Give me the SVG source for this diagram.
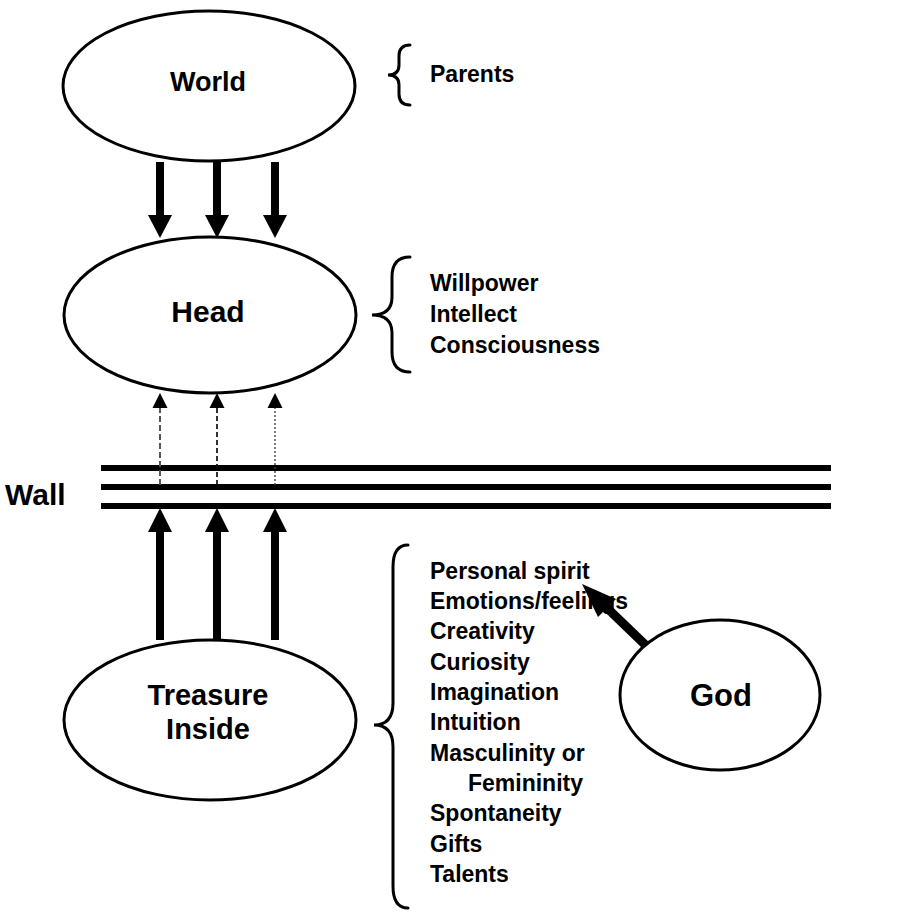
<svg xmlns="http://www.w3.org/2000/svg" width="912" height="912" viewBox="0 0 912 912">
<style>
.node ellipse{fill:#fff;stroke:#000;stroke-width:3}
.lbl{font-family:"Liberation Sans",Arial,sans-serif;font-weight:bold;fill:#000}
.big{font-size:27px;text-anchor:middle}
.item{font-size:23px}
.brace{fill:none;stroke:#000;stroke-width:3;stroke-linecap:round}
.shaft{stroke:#000;stroke-width:8;fill:none}
.wall{stroke:#000;stroke-width:6}
</style>
<rect width="912" height="912" fill="#fff"/>
<g id="wall">
<line class="wall" x1="101" y1="468" x2="831" y2="468"/>
<line class="wall" x1="101" y1="487" x2="831" y2="487"/>
<line class="wall" x1="101" y1="506" x2="831" y2="506"/>
<text class="lbl" x="5" y="505" font-size="30">Wall</text>
</g>
<g id="connectors">
<line class="shaft" x1="160" y1="162" x2="160" y2="216"/>
<polygon points="148,215 172,215 160,238"/>
<line class="shaft" x1="217" y1="160" x2="217" y2="216"/>
<polygon points="205,215 229,215 217,238"/>
<line class="shaft" x1="275" y1="162" x2="275" y2="216"/>
<polygon points="263,215 287,215 275,238"/>
<line x1="160" y1="485" x2="160" y2="407" stroke="#555" stroke-width="2" stroke-dasharray="6,3"/>
<polygon points="152.5,408 167.5,408 160,393"/>
<line x1="217" y1="485" x2="217" y2="407" stroke="#000" stroke-width="1.6" stroke-dasharray="5,3"/>
<polygon points="209.5,408 224.5,408 217,393"/>
<line x1="275" y1="485" x2="275" y2="407" stroke="#444" stroke-width="1.4" stroke-dasharray="2,2"/>
<polygon points="267.5,408 282.5,408 275,393"/>
<line class="shaft" x1="160" y1="640" x2="160" y2="530"/>
<polygon points="148,532 172,532 160,508"/>
<line class="shaft" x1="217" y1="641" x2="217" y2="530"/>
<polygon points="205,532 229,532 217,508"/>
<line class="shaft" x1="275" y1="640" x2="275" y2="530"/>
<polygon points="263,532 287,532 275,508"/>
<line x1="660" y1="659" x2="606" y2="607" stroke="#000" stroke-width="9"/>
<polygon points="582,584 616,599 598,617"/>
</g>
<g id="world" class="node">
<ellipse cx="209" cy="86" rx="146" ry="75"/>
<text class="lbl big" x="208" y="91">World</text>
</g>
<g id="head" class="node">
<ellipse cx="210" cy="315" rx="146" ry="78"/>
<text class="lbl big" x="208" y="322" style="font-size:30px">Head</text>
</g>
<g id="treasure" class="node">
<ellipse cx="210" cy="720" rx="146" ry="80"/>
<text class="lbl big" x="208" y="705" style="font-size:29px">Treasure</text>
<text class="lbl big" x="208" y="739" style="font-size:29px">Inside</text>
</g>
<g id="god" class="node">
<ellipse cx="720" cy="695" rx="100" ry="75"/>
<text class="lbl big" x="721" y="706" style="font-size:31px">God</text>
</g>
<g id="parents">
<path class="brace" d="M410,45 Q399,45 399,56 L399,65 Q399,75 388,75 Q399,75 399,85 L399,94 Q399,105 410,105"/>
<text class="lbl item" x="430" y="82">Parents</text>
</g>
<g id="head-list">
<path class="brace" d="M410,257 Q392,257 392,277 L392,297 Q392,315 372,315 Q392,315 392,333 L392,352 Q392,372 410,372"/>
<text class="lbl item" x="430" y="291">Willpower</text>
<text class="lbl item" x="430" y="322">Intellect</text>
<text class="lbl item" x="430" y="353">Consciousness</text>
</g>
<g id="treasure-list">
<path class="brace" d="M408,545 Q393,545 393,567 L393,703 Q393,725 374,725 Q393,725 393,747 L393,886 Q393,908 408,908"/>
<text class="lbl item" x="430" y="579">Personal spirit</text>
<text class="lbl item" x="430" y="609">Emotions/feelings</text>
<text class="lbl item" x="430" y="639">Creativity</text>
<text class="lbl item" x="430" y="670">Curiosity</text>
<text class="lbl item" x="430" y="700">Imagination</text>
<text class="lbl item" x="430" y="730">Intuition</text>
<text class="lbl item" x="430" y="761">Masculinity or</text>
<text class="lbl item" x="468" y="791">Femininity</text>
<text class="lbl item" x="430" y="821">Spontaneity</text>
<text class="lbl item" x="430" y="852">Gifts</text>
<text class="lbl item" x="430" y="882">Talents</text>
</g>
</svg>
